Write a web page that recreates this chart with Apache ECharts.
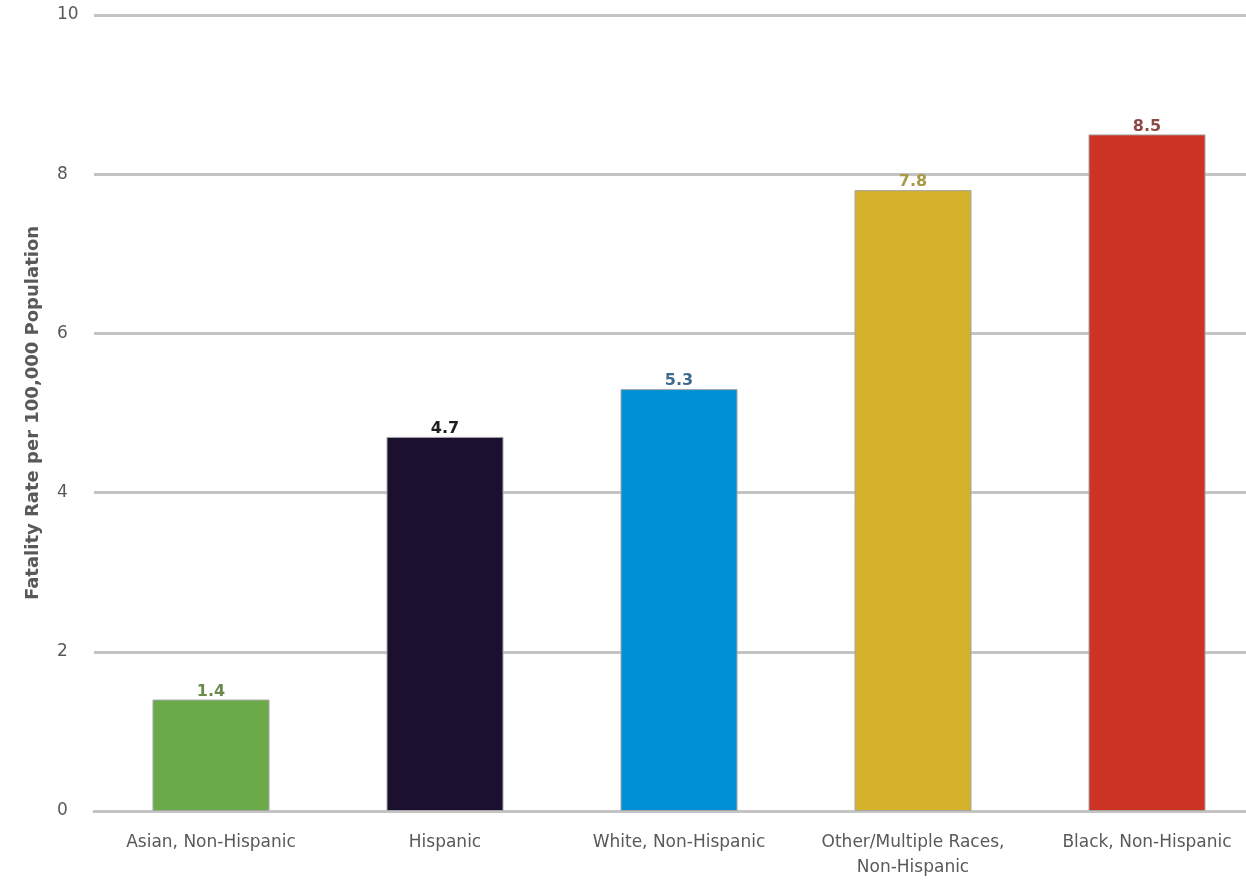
<!DOCTYPE html>
<html><head><meta charset="utf-8">
<script src="https://cdn.jsdelivr.net/npm/echarts@6/dist/echarts.min.js"></script>
<style>html,body{margin:0;padding:0;background:#fff;overflow:hidden}#c{width:1264px;height:883px}</style>
</head><body><div id="c"></div>
<script>
const categories = ["Asian, Non-Hispanic", "Hispanic", "White, Non-Hispanic", "Other/Multiple Races,\nNon-Hispanic", "Black, Non-Hispanic"];
const values = [1.4, 4.7, 5.3, 7.8, 8.5];
const barColors = ["#6aaa48", "#1c1030", "#0090d6", "#d4b22a", "#cc3324"];
const labelColors = ["#6c8a4c", "#1e1e1e", "#3c6a8c", "#a89a46", "#8c4a44"];
const yTicks = [0, 2, 4, 6, 8, 10];

const FONT = 'DejaVu Sans';
const chart = echarts.init(document.getElementById('c'));
chart.setOption({
  animation: false,
  grid: {left: 94, right: 0, top: 15, bottom: 72, containLabel: false},
  xAxis: {
    type: 'category', data: categories,
    axisLine: {lineStyle: {color: '#c4c4c4', width: 3}},
    axisTick: {show: false},
    axisLabel: {color: '#595959', fontFamily: FONT, fontSize: 17, margin: 19, lineHeight: 25, interval: 0}
  },
  yAxis: {
    type: 'value', min: 0, max: 10, interval: 2,
    name: 'Fatality Rate per 100,000 Population', nameLocation: 'middle', nameGap: 52,
    nameTextStyle: {color: '#595959', fontFamily: FONT, fontSize: 18, fontWeight: 'bold'},
    axisLabel: {color: '#595959', fontFamily: FONT, fontSize: 17, margin: 37, align: 'left',
      formatter: v => yTicks.includes(v) ? String(v) : ''},
    splitLine: {lineStyle: {color: '#c4c4c4', width: 3}},
    axisLine: {show: false}, axisTick: {show: false}
  },
  series: [{
    type: 'bar', barWidth: 117,
    data: values.map((v, i) => ({
      value: v,
      itemStyle: {color: barColors[i], borderColor: '#a6a6a6', borderWidth: 1},
      label: {color: labelColors[i]}
    })),
    label: {show: true, position: 'top', distance: 0, fontFamily: FONT, fontSize: 16, fontWeight: 'bold'}
  }]
});
</script></body></html>
